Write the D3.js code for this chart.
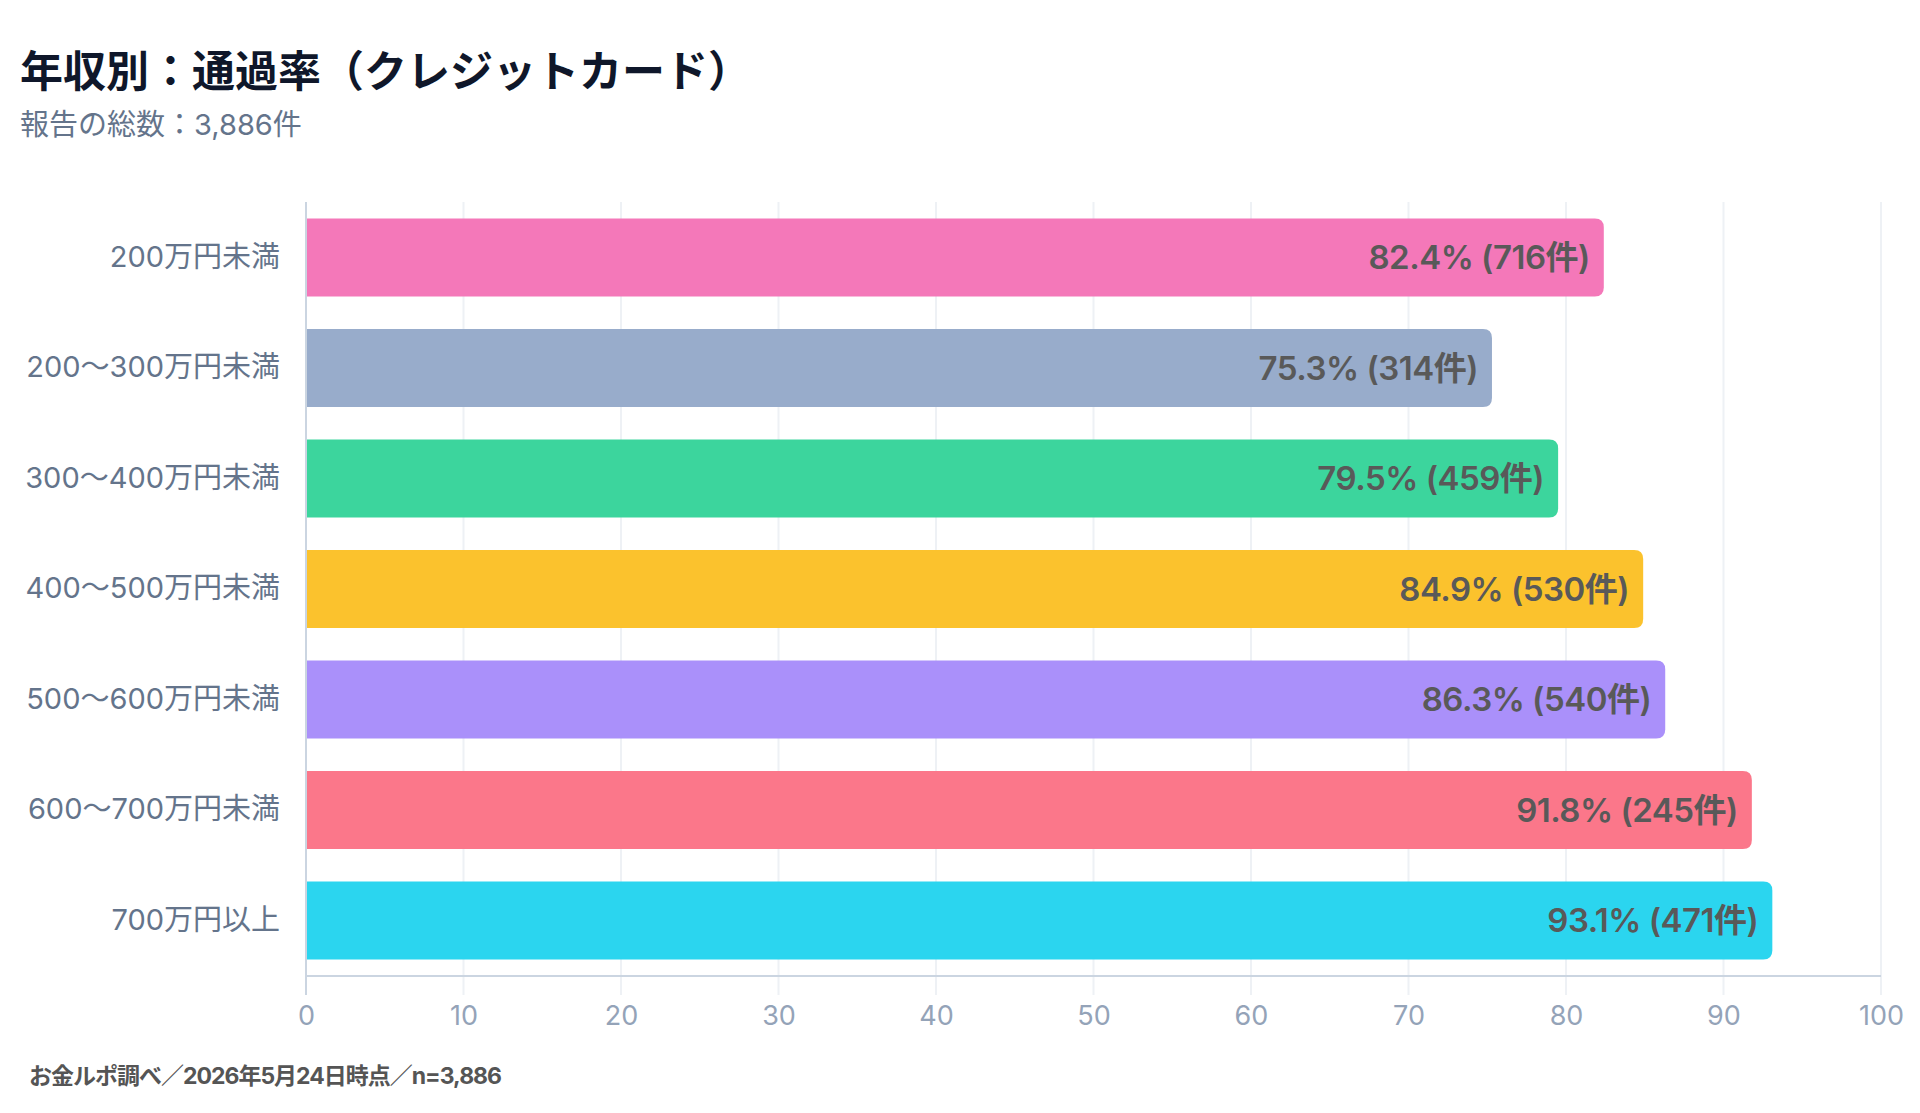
<!DOCTYPE html>
<html>
<head>
<meta charset="utf-8">
<script src="https://cdn.jsdelivr.net/npm/d3@7"></script>
<style>
  body { margin:0; background:#fff; font-family:Inter,"Noto Sans CJK JP",sans-serif; }
  #canvas { width:1920px; height:1113px; }
</style>
</head>
<body>
<div id="canvas" class="canvas"></div>
<script>
// data
var categories = ['200万円未満','200〜300万円未満','300〜400万円未満','400〜500万円未満','500〜600万円未満','600〜700万円未満','700万円以上'];
var rates = [82.4, 75.3, 79.5, 84.9, 86.3, 91.8, 93.1];
var counts = [716, 314, 459, 530, 540, 245, 471];
var colors = ['#f472b6','#94a9c9','#34d399','#fbbf24','#a78bfa','#fb7185','#22d3ee'];
var xTicks = [0,10,20,30,40,50,60,70,80,90,100];
var title = '年収別：通過率（クレジットカード）';
var subtitle = '報告の総数：3,886件';
var footer = 'お金ルポ調べ／2026年5月24日時点／n=3,886';

var FONT = 'Inter,"Noto Sans CJK JP",sans-serif';
var W = 1920, H = 1113;
var m = {t:202, r:39, b:137, l:306};
var w = W - m.l - m.r,
    h = H - m.t - m.b;

var svg = d3.select('#canvas').append('svg')
    .attr('width', W)
    .attr('height', H)
    .attr('font-family', FONT);

svg.append('text').attr('x', 20).attr('y', 87)
    .attr('font-size', 43).attr('font-weight', 700).attr('fill', '#0f172a')
    .attr('font-family', '"Noto Sans CJK JP",sans-serif')
    .text(title);
svg.append('text').attr('x', 20).attr('y', 135)
    .attr('font-size', 29).attr('fill', '#64748b')
    .text(subtitle);

var plot = svg.append('g').attr('transform', 'translate(' + m.l + ',' + m.t + ')');

var rows = categories.map(function(c, i){
    return {cat:c, rate:rates[i], n:counts[i], color:colors[i]};
});

var x = d3.scaleLinear().domain([0, 100]).range([0, w]);
var y = d3.scaleBand().domain(categories).range([0, h]).paddingInner(0.295).paddingOuter(0.15);

// grid (extends a bit below the axis line, like ticks)
plot.append('g').selectAll('line')
    .data(xTicks.filter(function(d){ return d > 0; }))
    .enter().append('line')
    .attr('x1', function(d){ return x(d); })
    .attr('x2', function(d){ return x(d); })
    .attr('y1', 0).attr('y2', h + 19)
    .attr('stroke', '#eef1f5').attr('stroke-width', 2);

// bars: square left, rounded right
var r = 9;
function barPath(d){
    var x0 = x(0), x1 = x(d.rate), y0 = y(d.cat), bh = y.bandwidth();
    return 'M' + x0 + ',' + y0 +
        'H' + (x1 - r) +
        'Q' + x1 + ',' + y0 + ' ' + x1 + ',' + (y0 + r) +
        'V' + (y0 + bh - r) +
        'Q' + x1 + ',' + (y0 + bh) + ' ' + (x1 - r) + ',' + (y0 + bh) +
        'H' + x0 + 'Z';
}
plot.append('g').selectAll('path')
    .data(rows).enter().append('path')
    .attr('d', barPath)
    .attr('fill', function(d){ return d.color; })
    .attr('fill-opacity', 0.96);

plot.append('g').selectAll('text')
    .data(rows).enter().append('text')
    .attr('x', function(d){ return x(d.rate) - 14; })
    .attr('y', function(d){ return y(d.cat) + y.bandwidth()/2; })
    .attr('dy', '0.36em')
    .attr('text-anchor', 'end')
    .attr('font-size', 33).attr('font-weight', 600)
    .attr('letter-spacing', -0.5)
    .attr('fill', '#595959')
    .text(function(d){ return d.rate.toFixed(1) + '% (' + d.n + '件)'; });

// axes
var axisX = d3.axisBottom(x).tickValues(xTicks).tickSize(0).tickPadding(30);
var gx = plot.append('g').attr('transform', 'translate(0,' + h + ')').call(axisX);
gx.select('.domain').remove();
gx.selectAll('text').attr('font-size', 27).attr('fill', '#94a3b8')
    .attr('font-family', FONT);

var axisY = d3.axisLeft(y).tickSize(0).tickPadding(26);
var gy = plot.append('g').call(axisY);
gy.select('.domain').remove();
gy.selectAll('text').attr('font-size', 29).attr('fill', '#64748b')
    .attr('font-family', FONT);

plot.append('line').attr('x1', 0).attr('x2', 0).attr('y1', 0).attr('y2', h + 19)
    .attr('stroke', '#cbd5e1').attr('stroke-width', 2);
plot.append('line').attr('x1', 0).attr('x2', w).attr('y1', h).attr('y2', h)
    .attr('stroke', '#cbd5e1').attr('stroke-width', 2);

svg.append('text').attr('x', 29).attr('y', 1084)
    .attr('font-size', 23).attr('font-weight', 700).attr('fill', '#555')
    .attr('letter-spacing', -1)
    .text(footer);
</script>
</body>
</html>
